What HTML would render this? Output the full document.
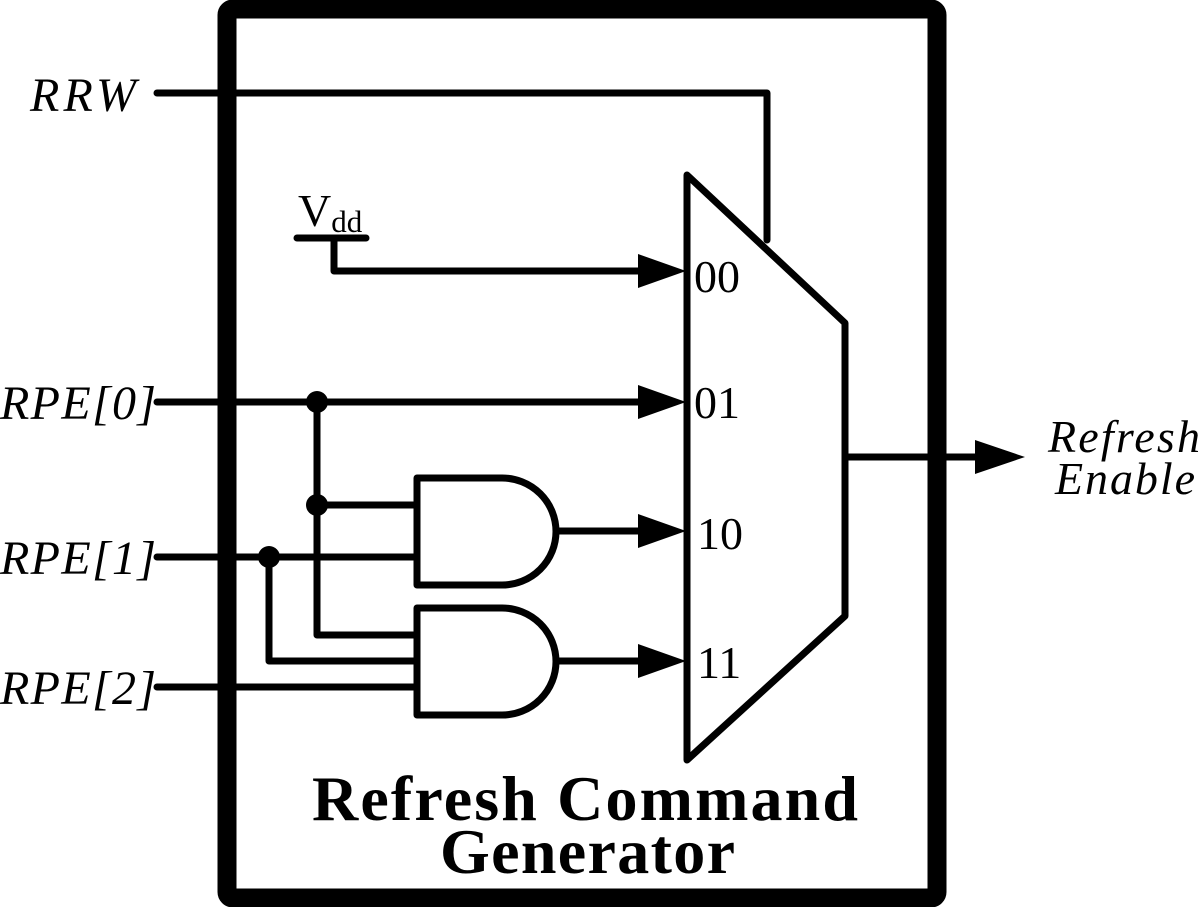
<!DOCTYPE html>
<html><head><style>html,body{margin:0;padding:0;background:#fff}svg{display:block}</style></head>
<body>
<svg width="1200" height="907" viewBox="0 0 1200 907" xmlns="http://www.w3.org/2000/svg" font-family="'Liberation Serif', serif">
<g fill="none" stroke="#000" stroke-width="7" stroke-linecap="round" stroke-linejoin="round">
  <rect x="227" y="9" width="710" height="889" rx="6" stroke-width="19"/>
  <polyline points="157,93 767,93 767,240"/>
  <polygon points="687,175 845,323 845,616 687,760" />
  <line x1="297" y1="238" x2="366" y2="238"/>
  <polyline points="334,238 334,271 650,271"/>
  <line x1="157" y1="402" x2="650" y2="402"/>
  <polyline points="317,402 317,635 417,635"/>
  <line x1="317" y1="505" x2="417" y2="505"/>
  <line x1="157" y1="557" x2="417" y2="557"/>
  <polyline points="269,557 269,661 417,661"/>
  <line x1="157" y1="687" x2="417" y2="687"/>
  <path d="M417,478 H502 A54,53.5 0 0 1 502,585 H417 Z"/>
  <path d="M417,608 H502 A54,53.5 0 0 1 502,715 H417 Z"/>
  <line x1="556" y1="531" x2="650" y2="531"/>
  <line x1="556" y1="661" x2="650" y2="661"/>
  <line x1="845" y1="457" x2="980" y2="457"/>
</g>
<g fill="#000">
  <circle cx="317" cy="402" r="11"/>
  <circle cx="317" cy="505" r="11"/>
  <circle cx="269" cy="557" r="11"/>
  <polygon points="638,254 686,271 638,288"/>
  <polygon points="638,385 686,402 638,419"/>
  <polygon points="638,514 686,531 638,548"/>
  <polygon points="638,644 686,661 638,678"/>
  <polygon points="975,440 1025,457 975,474"/>
</g>
<g fill="#000" font-size="46">
  <text x="298" y="226" font-size="46">V<tspan font-size="31" dy="6">dd</tspan></text>
  <text x="694" y="292">00</text>
  <text x="694" y="418">01</text>
  <text x="697" y="549">10</text>
  <text x="697" y="678">11</text>
  <g font-style="italic" font-size="48">
    <text x="30" y="111" textLength="106">RRW</text>
    <text x="0" y="419" textLength="156">RPE[0]</text>
    <text x="0" y="574" textLength="156">RPE[1]</text>
    <text x="0" y="704" textLength="156">RPE[2]</text>
    <text x="1048" y="452" textLength="152" font-size="46">Refresh</text>
    <text x="1055" y="494" textLength="140" font-size="46">Enable</text>
  </g>
  <g font-weight="bold" font-size="64">
    <text x="312" y="820" textLength="546">Refresh Command</text>
    <text x="440" y="873" textLength="295">Generator</text>
  </g>
</g>
</svg>
</body></html>
